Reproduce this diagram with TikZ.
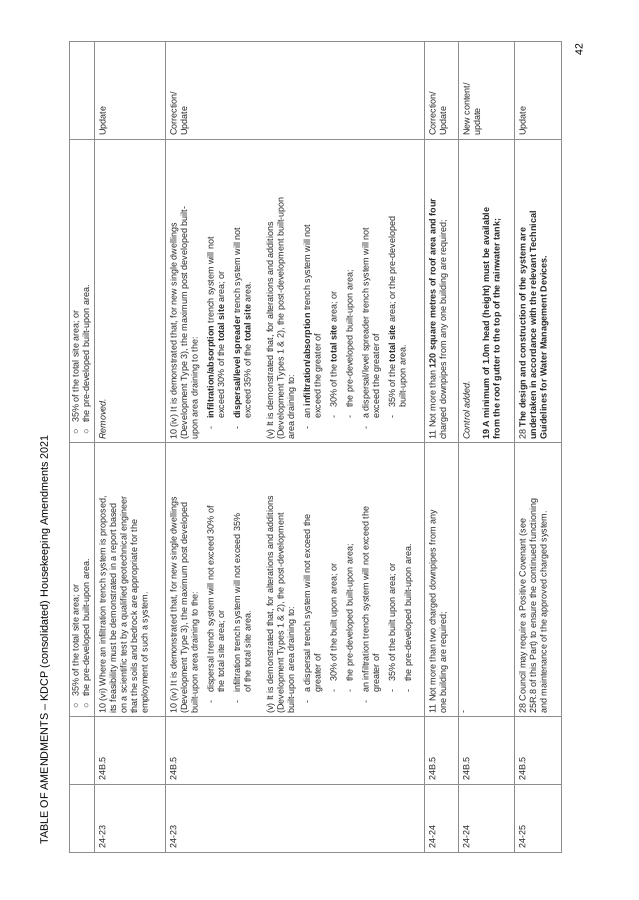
\documentclass[tikz,border=0pt]{standalone}
\usepackage{fontspec}
\setmainfont{Liberation Sans}
\newcommand\Ia{\hspace*{10pt}\makebox[11pt][l]{-}}
\newcommand\Ib{\hspace*{21pt}}
\newcommand\IIa{\hspace*{21pt}\makebox[11pt][l]{-}}
\newcommand\IIb{\hspace*{32pt}}
\newcommand\Ci{\hspace*{5pt}\makebox[12pt][l]{○}}
\tikzset{
  cell/.style={rotate=90,anchor=north west,inner sep=0pt,align=left,
    font=\fontsize{9}{10.5}\selectfont,text=black!85},
  grid/.style={draw=black!45,line width=1pt}
}
\begin{document}
\begin{tikzpicture}[x=1pt,y=1pt]
\useasboundingbox (0,0) rectangle (638,900);
% grid
\draw[grid] (69,47) rectangle (561,858);
\foreach \x in {94,165,424,458,514} \draw[grid] (\x,47) -- (\x,858);
\foreach \y in {115,183,457,760} \draw[grid] (69,\y) -- (561,\y);
% title and page number
\node[rotate=90,anchor=west,inner sep=0pt,font=\fontsize{10.8}{12}\selectfont] (title) at (45,55)
  {TABLE OF AMENDMENTS -- KDCP (consolidated) Housekeeping Amendments 2021};
\node[rotate=90,inner sep=0pt,font=\fontsize{10.5}{12}\selectfont] (pg) at (579,850) {42};
% row 1
\node[cell] (r1o) at (72,186) {\Ci 35\% of the total site area; or\\ \Ci the pre-developed built-upon area.};
\node[cell] (r1a) at (72,460) {\Ci 35\% of the total site area; or\\ \Ci the pre-developed built-upon area.};
% row 2
\node[cell] (r2i) at (99,51) {24-23};
\node[cell] (r2c) at (99,119) {24B.5};
\node[cell] (r2o) at (99,186) {10 (vi) Where an infiltration trench system is proposed,\\
its feasibility must be demonstrated in a report based\\
on a scientific test by a qualified geotechnical engineer\\
that the soils and bedrock are appropriate for the\\
employment of such a system.};
\node[cell] (r2a) at (99,460) {\textit{Removed.}};
\node[cell] (r2r) at (99,764) {Update};
% row 3
\node[cell] (r3i) at (170,51) {24-23};
\node[cell] (r3c) at (170,119) {24B.5};
\node[cell] (r3o) at (170,186) {10 (iv) It is demonstrated that, for new single dwellings\\
(Development Type 3), the maximum post developed\\
built-upon area draining to the:\\[5.5pt]
\Ia dispersal trench system will not exceed 30\% of\\
\Ib the total site area; or\\[5.5pt]
\Ia infiltration trench system will not exceed 35\%\\
\Ib of the total site area.\\[12pt]
(v) It is demonstrated that, for alterations and additions\\
(Development Types 1 \& 2), the post-development\\
built-upon area draining to:\\[5.5pt]
\Ia a dispersal trench system will not exceed the\\
\Ib greater of\\[5.5pt]
\IIa 30\% of the built upon area; or\\[5.5pt]
\IIa the pre-developed built-upon area;\\[5.5pt]
\Ia an infiltration trench system will not exceed the\\
\Ib greater of\\[5.5pt]
\IIa 35\% of the built upon area; or\\[5.5pt]
\IIa the pre-developed built-upon area.};
\node[cell] (r3a) at (170,460) {10 (iv) It is demonstrated that, for new single dwellings\\
(Development Type 3), the maximum post developed built-\\
upon area draining to the:\\[5.5pt]
\Ia \textbf{infiltration/absorption} trench system will not\\
\Ib exceed 30\% of the \textbf{total site} area; or\\[5.5pt]
\Ia \textbf{dispersal/level spreader} trench system will not\\
\Ib exceed 35\% of the \textbf{total site} area.\\[12pt]
(v) It is demonstrated that, for alterations and additions\\
(Development Types 1 \& 2), the post-development built-upon\\
area draining to:\\[5.5pt]
\Ia an \textbf{infiltration/absorption} trench system will not\\
\Ib exceed the greater of\\[5.5pt]
\IIa 30\% of the \textbf{total site} area; or\\[5.5pt]
\IIa the pre-developed built-upon area;\\[5.5pt]
\Ia a dispersal/level spreader trench system will not\\
\Ib exceed the greater of\\[5.5pt]
\IIa 35\% of the \textbf{total site} area; or the pre-developed\\
\IIb built-upon area.};
\node[cell] (r3r) at (170,764) {Correction/\\Update};
% row 4
\node[cell] (r4i) at (429,51) {24-24};
\node[cell] (r4c) at (429,119) {24B.5};
\node[cell] (r4o) at (429,186) {11 Not more than two charged downpipes from any\\one building are required;};
\node[cell] (r4a) at (429,460) {11 Not more than \textbf{120 square metres of roof area and four}\\charged downpipes from any one building are required;};
\node[cell] (r4r) at (429,764) {Correction/\\Update};
% row 5
\node[cell] (r5i) at (463,51) {24-24};
\node[cell] (r5c) at (463,119) {24B.5};
\node[cell] (r5o) at (463,186) {-};
\node[cell] (r5a) at (463,460) {\textit{Control added.}\\[9pt]
\textbf{19 A minimum of 1.0m head (height) must be available}\\
\textbf{from the roof gutter to the top of the rainwater tank;}};
\node[cell] (r5r) at (463,764) {New content/\\update};
% row 6
\node[cell] (r6i) at (519,51) {24-25};
\node[cell] (r6c) at (519,119) {24B.5};
\node[cell] (r6o) at (519,186) {28 Council may require a Positive Covenant (see\\
25R.8 of this Part) to ensure the continued functioning\\
and maintenance of the approved charged system.};
\node[cell] (r6a) at (519,460) {28 \textbf{The design and construction of the system are}\\
\textbf{undertaken in accordance with the relevant Technical}\\
\textbf{Guidelines for Water Management Devices.}};
\node[cell] (r6r) at (519,764) {Update};
\end{tikzpicture}
\end{document}
